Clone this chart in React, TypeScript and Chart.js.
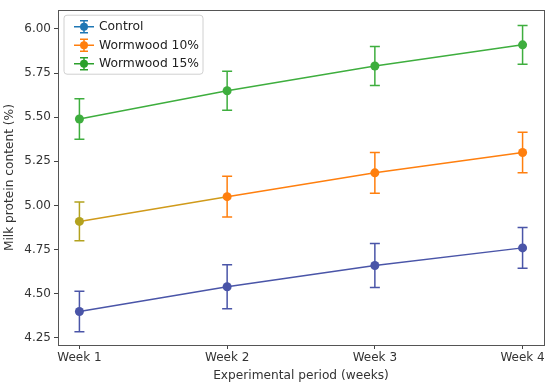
import React, { useEffect, useRef } from "react";
import { Chart, registerables } from "chart.js";

Chart.register(...registerables);

const categories = ["Week 1", "Week 2", "Week 3", "Week 4"];
const seriesNames = ["Control", "Wormwood 10%", "Wormwood 15%"];
const controlValues = [4.40, 4.54, 4.66, 4.76];
const controlErrors = [0.115, 0.125, 0.125, 0.115];
const w10Values = [4.91, 5.05, 5.185, 5.30];
const w10Errors = [0.11, 0.115, 0.115, 0.115];
const w15Values = [5.49, 5.65, 5.79, 5.91];
const w15Errors = [0.115, 0.11, 0.11, 0.11];
const yTicks = [4.25, 4.5, 4.75, 5.0, 5.25, 5.5, 5.75, 6.0];

const lineColors = ["#4a55a8", "#ff7f0e", "#3eae3e"];
const firstPointColors = ["#4a55a8", "#b3a21e", "#3eae3e"];
const firstSegmentColors = ["#4a55a8", "#d09a1a", "#3eae3e"];
const legendColors = ["#1f77b4", "#ff7f0e", "#2ca02c"];
const FONT = "'DejaVu Sans', sans-serif";

const errorBarPlugin = {
  id: "errorBars",
  afterDatasetsDraw(chart: any) {
    const ctx = chart.ctx;
    const ys = chart.scales.y;
    chart.data.datasets.forEach((ds: any, di: number) => {
      const meta = chart.getDatasetMeta(di);
      ctx.save();
      ctx.lineWidth = 1.5;
      meta.data.forEach((pt: any, i: number) => {
        const v = ds.data[i].y;
        const e = ds.errors[i];
        const yt = ys.getPixelForValue(v + e);
        const yb = ys.getPixelForValue(v - e);
        const x = pt.x;
        ctx.strokeStyle = Array.isArray(ds.pointBackgroundColor) ? ds.pointBackgroundColor[i] : ds.borderColor;
        ctx.beginPath();
        ctx.moveTo(x, yt);
        ctx.lineTo(x, yb);
        ctx.moveTo(x - 5, yt);
        ctx.lineTo(x + 5, yt);
        ctx.moveTo(x - 5, yb);
        ctx.lineTo(x + 5, yb);
        ctx.stroke();
      });
      ctx.restore();
    });
  },
};

const framePlugin = {
  id: "frameAndLegend",
  afterDraw(chart: any) {
    const ctx = chart.ctx;
    const a = chart.chartArea;
    ctx.save();
    ctx.strokeStyle = "#555";
    ctx.lineWidth = 1;
    ctx.strokeRect(Math.round(a.left) + 0.5, Math.round(a.top) + 0.5, Math.round(a.right - a.left), Math.round(a.bottom - a.top));
    // legend
    const lx = a.left + 6, ly = a.top + 5, lw = 139, lh = 59;
    ctx.fillStyle = "rgba(255,255,255,0.85)";
    ctx.strokeStyle = "#d0d0d0";
    ctx.beginPath();
    const r = 3;
    ctx.moveTo(lx + r, ly);
    ctx.arcTo(lx + lw, ly, lx + lw, ly + lh, r);
    ctx.arcTo(lx + lw, ly + lh, lx, ly + lh, r);
    ctx.arcTo(lx, ly + lh, lx, ly, r);
    ctx.arcTo(lx, ly, lx + lw, ly, r);
    ctx.closePath();
    ctx.fill();
    ctx.stroke();
    seriesNames.forEach((name, i) => {
      const cy = ly + 11.5 + i * 18.5;
      const cx = lx + 20;
      ctx.strokeStyle = legendColors[i];
      ctx.fillStyle = legendColors[i];
      ctx.lineWidth = 1.5;
      ctx.beginPath();
      ctx.moveTo(cx - 10, cy);
      ctx.lineTo(cx + 10, cy);
      ctx.moveTo(cx, cy - 6);
      ctx.lineTo(cx, cy + 6);
      ctx.moveTo(cx - 4, cy - 6);
      ctx.lineTo(cx + 4, cy - 6);
      ctx.moveTo(cx - 4, cy + 6);
      ctx.lineTo(cx + 4, cy + 6);
      ctx.stroke();
      ctx.beginPath();
      ctx.arc(cx, cy, 4, 0, Math.PI * 2);
      ctx.fill();
      ctx.fillStyle = "#222";
      ctx.font = "12.3px " + FONT;
      ctx.textBaseline = "middle";
      ctx.textAlign = "left";
      ctx.fillText(name, lx + 35, cy + 0.5);
    });
    ctx.restore();
  },
};

export default function App() {
  const ref = useRef<HTMLCanvasElement | null>(null);
  useEffect(() => {
    const vals = [controlValues, w10Values, w15Values];
    const errs = [controlErrors, w10Errors, w15Errors];
    const chart = new Chart(ref.current as HTMLCanvasElement, {
      type: "line",
      data: {
        datasets: seriesNames.map((n, i) => ({
          label: n,
          data: vals[i].map((v, j) => ({ x: j, y: v })),
          errors: errs[i],
          borderColor: lineColors[i],
          backgroundColor: lineColors[i],
          pointBackgroundColor: vals[i].map((_, j) => (j === 0 ? firstPointColors[i] : lineColors[i])),
          segment: {
            borderColor: (c: any) => (c.p0DataIndex === 0 ? firstSegmentColors[i] : lineColors[i]),
          },
          borderWidth: 1.5,
          pointRadius: 4.5,
          pointBorderWidth: 0,
          tension: 0,
        })) as any,
      },
      options: {
        animation: false,
        responsive: false,
        layout: { padding: { top: 6, right: 6, left: 0, bottom: 0 } },
        plugins: { legend: { display: false }, tooltip: { enabled: false } },
        scales: {
          x: {
            type: "linear",
            min: -0.145,
            max: 3.145,
            afterBuildTicks: (s: any) => {
              s.ticks = categories.map((_, i) => ({ value: i }));
            },
            afterFit: (s: any) => {
              s.height = 42;
            },
            ticks: {
              callback: (v: any) => categories[v] ?? "",
              color: "#333",
              font: { family: FONT, size: 12 },
              padding: 2,
              maxRotation: 0,
            },
            grid: { drawOnChartArea: false, tickLength: 4, color: "#444" },
            border: { display: false },
            title: {
              display: true,
              text: "Experimental period (weeks)",
              color: "#333",
              font: { family: FONT, size: 12.2 },
              padding: { top: 0, bottom: 4 },
            },
          },
          y: {
            type: "linear",
            min: 4.21,
            max: 6.106,
            afterBuildTicks: (s: any) => {
              s.ticks = yTicks.map((v) => ({ value: v }));
            },
            afterFit: (s: any) => {
              s.width = 58;
            },
            ticks: {
              callback: (v: any) => Number(v).toFixed(2),
              color: "#333",
              font: { family: FONT, size: 12 },
              padding: 3,
            },
            grid: { drawOnChartArea: false, tickLength: 4, color: "#444" },
            border: { display: false },
            title: {
              display: true,
              text: "Milk protein content (%)",
              color: "#333",
              font: { family: FONT, size: 12.2 },
              padding: { top: 3, bottom: 0 },
            },
          },
        },
      } as any,
      plugins: [errorBarPlugin, framePlugin],
    });
    return () => chart.destroy();
  }, []);
  return (
    <div style={{ position: "fixed", left: 0, top: 0, width: 550, height: 387, background: "#fff" }}>
      <canvas ref={ref} width={550} height={387} />
    </div>
  );
}
